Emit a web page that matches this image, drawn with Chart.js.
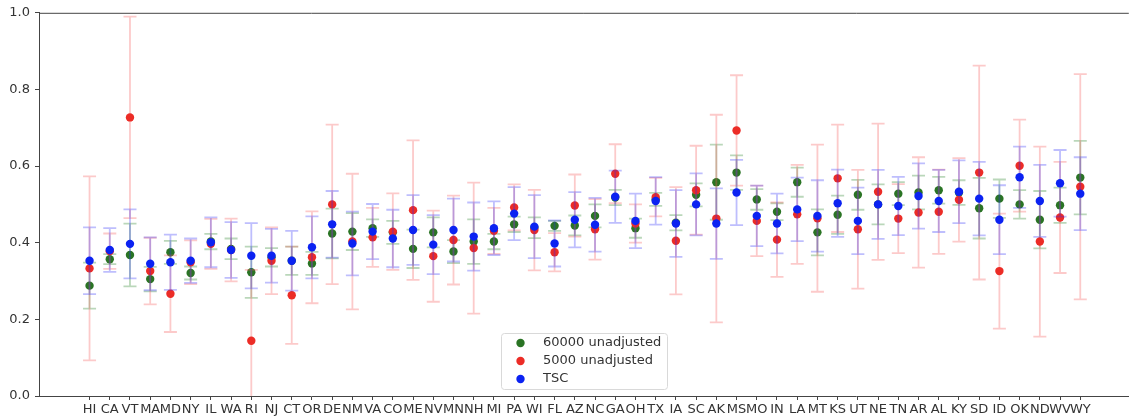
<!DOCTYPE html>
<html>
<head>
<meta charset="utf-8">
<script src="https://cdn.jsdelivr.net/npm/chart.js@4.4.1/dist/chart.umd.min.js"></script>
<style>
  html, body { margin: 0; padding: 0; background: #fff; overflow: hidden; }
  #chart { display: block; }
</style>
</head>
<body>
<canvas id="chart" width="1133" height="417"></canvas>
<script>
const states = ['HI','CA','VT','MA','MD','NY','IL','WA','RI','NJ','CT','OR','DE','NM','VA','CO','ME','NV',
  'MN','NH','MI','PA','WI','FL','AZ','NC','GA','OH','TX','IA','SC','AK','MS','MO','IN','LA','MT','KS',
  'UT','NE','TN','AR','AL','KY','SD','ID','OK','ND','WV','WY'];

// 60000 unadjusted
const greenVals = [0.288,0.357,0.368,0.305,0.375,0.321,0.403,0.384,0.323,0.362,0.353,0.346,0.424,0.429,0.438,0.427,0.384,0.427,
  0.377,0.403,0.403,0.448,0.439,0.444,0.445,0.470,0.518,0.438,0.513,0.452,0.525,0.558,0.583,0.513,0.481,0.558,0.427,0.473,
  0.525,0.500,0.528,0.531,0.537,0.531,0.490,0.515,0.500,0.460,0.498,0.570];
const greenErrs = [0.060,0.013,0.082,0.032,0.030,0.017,0.020,0.027,0.067,0.024,0.037,0.030,0.065,0.048,0.023,0.030,0.050,0.039,
  0.030,0.058,0.020,0.020,0.027,0.013,0.026,0.030,0.020,0.025,0.017,0.020,0.030,0.098,0.045,0.027,0.022,0.038,0.060,0.050,
  0.039,0.052,0.030,0.044,0.035,0.032,0.079,0.050,0.037,0.075,0.046,0.096];

// 5000 unadjusted
const redVals = [0.333,0.378,0.727,0.326,0.267,0.349,0.397,0.381,0.144,0.353,0.263,0.362,0.500,0.403,0.414,0.429,0.485,0.365,
  0.407,0.386,0.431,0.492,0.433,0.375,0.497,0.435,0.580,0.450,0.519,0.405,0.537,0.463,0.693,0.457,0.408,0.474,0.464,0.568,
  0.435,0.533,0.463,0.479,0.481,0.512,0.583,0.326,0.601,0.403,0.466,0.546];
const redErrs = [0.240,0.046,0.263,0.087,0.100,0.057,0.065,0.082,0.185,0.087,0.127,0.120,0.208,0.177,0.077,0.100,0.182,0.119,
  0.116,0.171,0.060,0.060,0.105,0.050,0.081,0.079,0.077,0.050,0.050,0.140,0.116,0.271,0.144,0.092,0.097,0.129,0.192,0.140,
  0.155,0.178,0.090,0.144,0.110,0.109,0.279,0.150,0.120,0.248,0.145,0.294];

// TSC
const blueVals = [0.353,0.381,0.397,0.345,0.349,0.353,0.401,0.381,0.366,0.366,0.353,0.388,0.448,0.398,0.429,0.411,0.433,0.395,
  0.433,0.416,0.438,0.476,0.442,0.398,0.460,0.447,0.520,0.457,0.509,0.450,0.500,0.450,0.531,0.470,0.450,0.487,0.470,0.503,
  0.457,0.500,0.496,0.522,0.509,0.533,0.515,0.460,0.571,0.509,0.555,0.528];
const blueErrs = [0.087,0.057,0.090,0.069,0.072,0.058,0.065,0.073,0.085,0.070,0.078,0.081,0.087,0.083,0.072,0.075,0.091,0.077,
  0.082,0.089,0.070,0.069,0.082,0.060,0.072,0.070,0.068,0.071,0.062,0.087,0.081,0.092,0.085,0.079,0.078,0.083,0.093,0.088,
  0.087,0.090,0.076,0.085,0.081,0.082,0.096,0.090,0.080,0.094,0.087,0.095];

const yTicks = [0, 0.2, 0.4, 0.6, 0.8, 1.0];

const textColor = '#333333';
const axisColor = '#444444';
const fontFamily = '"DejaVu Sans", sans-serif';

const toPoints = vals => vals.map((v, i) => ({ x: i, y: v }));

// draws a dataset's error bars just before its markers (matplotlib order)
const errorBarPlugin = {
  id: 'errorBars',
  beforeDatasetDraw(chart, args) {
    const ds = chart.data.datasets[args.index];
    if (!ds.errors) return;
    const { ctx, scales: { x, y } } = chart;
    ctx.save();
    ctx.strokeStyle = ds.errorColor;
    ctx.lineWidth = 1.8;
    ds.data.forEach((p, i) => {
      const e = ds.errors[i];
      const px = x.getPixelForValue(p.x);
      const top = y.getPixelForValue(Math.min(1, p.y + e));
      const bot = y.getPixelForValue(Math.max(0, p.y - e));
      ctx.beginPath();
      ctx.moveTo(px, top);
      ctx.lineTo(px, bot);
      if (p.y + e <= 1) { ctx.moveTo(px - 6.5, top); ctx.lineTo(px + 6.5, top); }
      if (p.y - e >= 0) { ctx.moveTo(px - 6.5, bot); ctx.lineTo(px + 6.5, bot); }
      ctx.stroke();
    });
    ctx.restore();
  }
};

const framePlugin = {
  id: 'frame',
  afterDraw(chart) {
    const { ctx, chartArea: a } = chart;
    ctx.save();
    ctx.strokeStyle = axisColor;
    ctx.lineWidth = 1;
    ctx.beginPath();
    ctx.moveTo(a.left, a.top + 0.5);
    ctx.lineTo(a.right, a.top + 0.5);
    ctx.stroke();

    // legend, lower center inside the axes
    const items = [0, 1, 2].map(i => chart.data.datasets[i]);
    const w = 166, h = 56;
    const lx = Math.round((a.left + a.right) / 2 - w / 2) + 0.5;
    const ly = a.bottom - 7 - h + 0.5;
    ctx.fillStyle = 'rgba(255,255,255,0.85)';
    ctx.strokeStyle = '#d9d9d9';
    ctx.beginPath();
    ctx.roundRect(lx, ly, w, h, 3);
    ctx.fill();
    ctx.stroke();
    ctx.font = '13px ' + fontFamily;
    ctx.textBaseline = 'middle';
    items.forEach((ds, k) => {
      const cy = ly + 9.5 + k * 18;
      ctx.fillStyle = ds.backgroundColor;
      ctx.beginPath();
      ctx.arc(lx + 19, cy, 4.2, 0, Math.PI * 2);
      ctx.fill();
      ctx.fillStyle = textColor;
      ctx.fillText(ds.label, lx + 41.5, cy);
    });
    ctx.restore();
  }
};

new Chart(document.getElementById('chart'), {
  type: 'scatter',
  data: {
    datasets: [
      { label: '60000 unadjusted', data: toPoints(greenVals), errors: greenErrs,
        backgroundColor: '#2a7424', errorColor: 'rgba(40,130,40,0.32)', order: 3 },
      { label: '5000 unadjusted', data: toPoints(redVals), errors: redErrs,
        backgroundColor: '#ec2c26', errorColor: 'rgba(245,90,90,0.32)', order: 2 },
      { label: 'TSC', data: toPoints(blueVals), errors: blueErrs,
        backgroundColor: '#0b22f2', errorColor: 'rgba(40,40,250,0.3)', order: 1 }
    ]
  },
  options: {
    responsive: false,
    animation: false,
    layout: { padding: { top: 11, left: 0, right: 0, bottom: 0 } },
    elements: { point: { radius: 4.2, borderWidth: 0, hoverRadius: 4.2 } },
    plugins: { legend: { display: false }, tooltip: { enabled: false } },
    scales: {
      x: {
        type: 'linear',
        min: -2.5,
        max: 51.4,
        afterBuildTicks: s => { s.ticks = states.map((_, i) => ({ value: i })); },
        afterFit: s => { s.height = 21; },
        grid: { drawOnChartArea: false, drawTicks: true, tickLength: 4, color: axisColor },
        border: { display: true, color: axisColor },
        ticks: {
          autoSkip: false, maxRotation: 0, minRotation: 0, padding: 2,
          color: textColor, font: { family: fontFamily, size: 13 },
          callback: v => states[v]
        }
      },
      y: {
        min: 0,
        max: 1,
        afterBuildTicks: s => { s.ticks = yTicks.map(v => ({ value: v })); },
        afterFit: s => { s.width = 39; },
        grid: { drawOnChartArea: false, drawTicks: true, tickLength: 4, color: axisColor },
        border: { display: true, color: axisColor },
        ticks: {
          padding: 5, color: textColor, font: { family: fontFamily, size: 13 },
          callback: v => v.toFixed(1)
        }
      }
    }
  },
  plugins: [errorBarPlugin, framePlugin]
});
</script>
</body>
</html>
